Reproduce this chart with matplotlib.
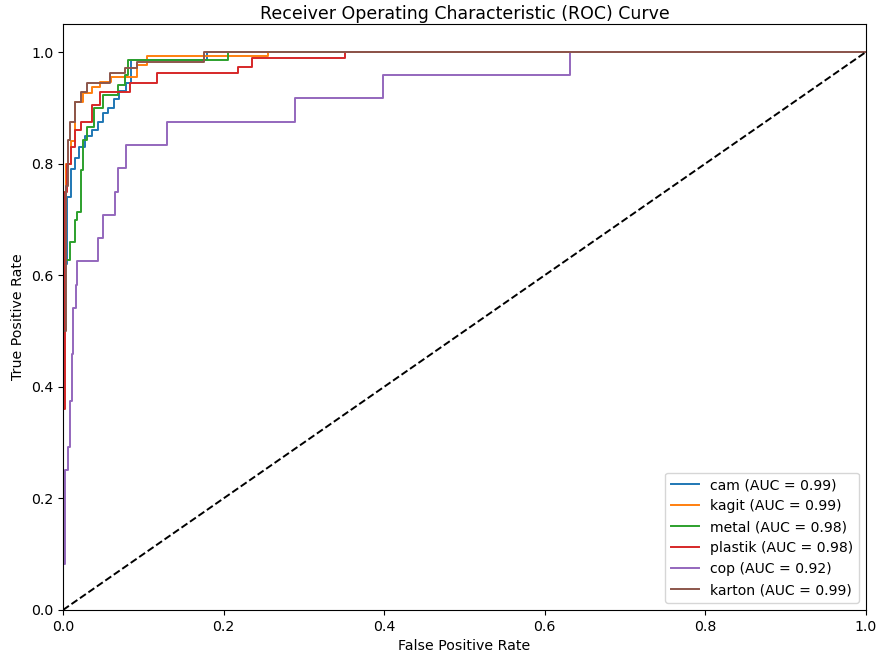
import matplotlib.pyplot as plt
import numpy as np

# Class names and AUC values
classes = ['cam', 'kagit', 'metal', 'plastik', 'cop', 'karton']
aucs = [0.99, 0.99, 0.98, 0.98, 0.92, 0.99]

# ROC corner points
fpr_cam = [0, 0, 0.005, 0.005, 0.010, 0.010, 0.015, 0.015, 0.020, 0.020, 0.028, 0.028, 0.036, 0.036,
           0.043, 0.043, 0.050, 0.050, 0.056, 0.056, 0.063, 0.063, 0.070, 0.070, 0.078, 0.078,
           0.085, 0.085, 0.179, 0.179, 1.0]
tpr_cam = [0, 0.62, 0.62, 0.74, 0.74, 0.79, 0.79, 0.81, 0.81, 0.83, 0.83, 0.85, 0.85, 0.86,
           0.86, 0.875, 0.875, 0.89, 0.89, 0.90, 0.90, 0.915, 0.915, 0.93, 0.93, 0.945,
           0.945, 0.986, 0.986, 1.0, 1.0]

fpr_kagit = [0, 0, 0.004, 0.004, 0.010, 0.010, 0.015, 0.015, 0.025, 0.025, 0.036, 0.036, 0.046, 0.046,
             0.060, 0.060, 0.092, 0.092, 0.104, 0.104, 0.255, 0.255, 1.0]
tpr_kagit = [0, 0.75, 0.75, 0.80, 0.80, 0.84, 0.84, 0.911, 0.911, 0.926, 0.926, 0.938, 0.938, 0.946,
             0.946, 0.955, 0.955, 0.977, 0.977, 0.992, 0.992, 1.0, 1.0]

fpr_metal = [0, 0, 0.0087, 0.0087, 0.015, 0.015, 0.018, 0.018, 0.022, 0.022, 0.025, 0.025, 0.0295, 0.0295,
             0.038, 0.038, 0.050, 0.050, 0.069, 0.069, 0.077, 0.077, 0.081, 0.081, 0.206, 0.206, 1.0]
tpr_metal = [0, 0.627, 0.627, 0.66, 0.66, 0.699, 0.699, 0.714, 0.714, 0.789, 0.789, 0.842, 0.842, 0.866,
             0.866, 0.899, 0.899, 0.923, 0.923, 0.941, 0.941, 0.959, 0.959, 0.986, 0.986, 1.0, 1.0]

fpr_plastik = [0, 0, 0.002, 0.002, 0.003, 0.003, 0.005, 0.005, 0.010, 0.010, 0.015, 0.015, 0.023, 0.023,
               0.036, 0.036, 0.046, 0.046, 0.083, 0.083, 0.117, 0.117, 0.218, 0.218, 0.235, 0.235,
               0.351, 0.351, 1.0]
tpr_plastik = [0, 0.36, 0.36, 0.50, 0.50, 0.75, 0.75, 0.80, 0.80, 0.83, 0.83, 0.86, 0.86, 0.875,
               0.875, 0.905, 0.905, 0.929, 0.929, 0.944, 0.944, 0.962, 0.962, 0.974, 0.974, 0.989,
               0.989, 1.0, 1.0]

fpr_cop = [0, 0, 0.002, 0.002, 0.006, 0.006, 0.0087, 0.0087, 0.011, 0.011, 0.013, 0.013, 0.016, 0.016,
           0.018, 0.018, 0.043, 0.043, 0.050, 0.050, 0.065, 0.065, 0.069, 0.069, 0.079, 0.079,
           0.129, 0.129, 0.289, 0.289, 0.399, 0.399, 0.632, 0.632, 1.0]
tpr_cop = [0, 0.083, 0.083, 0.25, 0.25, 0.292, 0.292, 0.375, 0.375, 0.458, 0.458, 0.542, 0.542, 0.583,
           0.583, 0.625, 0.625, 0.667, 0.667, 0.708, 0.708, 0.75, 0.75, 0.792, 0.792, 0.833,
           0.833, 0.875, 0.875, 0.917, 0.917, 0.958, 0.958, 1.0, 1.0]

fpr_karton = [0, 0, 0.004, 0.004, 0.006, 0.006, 0.0087, 0.0087, 0.015, 0.015, 0.022, 0.022, 0.0295, 0.0295,
              0.0585, 0.0585, 0.077, 0.077, 0.092, 0.092, 0.175, 0.175, 1.0]
tpr_karton = [0, 0.50, 0.50, 0.76, 0.76, 0.842, 0.842, 0.875, 0.875, 0.911, 0.911, 0.929, 0.929, 0.945,
              0.945, 0.962, 0.962, 0.971, 0.971, 0.983, 0.983, 1.0, 1.0]

fprs = [fpr_cam, fpr_kagit, fpr_metal, fpr_plastik, fpr_cop, fpr_karton]
tprs = [tpr_cam, tpr_kagit, tpr_metal, tpr_plastik, tpr_cop, tpr_karton]

fig = plt.figure(figsize=(8.8, 6.59), dpi=100)
ax = fig.add_axes([0.0716, 0.0744, 0.9124, 0.889])

for name, auc, fpr, tpr in zip(classes, aucs, fprs, tprs):
    ax.plot(fpr, tpr, lw=1.4, label=f'{name} (AUC = {auc:.2f})')

# chance line
ax.plot([0, 1], [0, 1], 'k--', lw=1.4)

ax.set_xlim(0.0, 1.0)
ax.set_ylim(0.0, 1.05)
ax.set_xlabel('False Positive Rate', fontsize=10.2)
ax.set_ylabel('True Positive Rate', fontsize=10.2)
ax.set_title('Receiver Operating Characteristic (ROC) Curve', fontsize=12.5, pad=4)
ax.tick_params(labelsize=10.2)
ax.legend(loc='lower right', fontsize=10.1)

plt.savefig('out.png', dpi=100)
